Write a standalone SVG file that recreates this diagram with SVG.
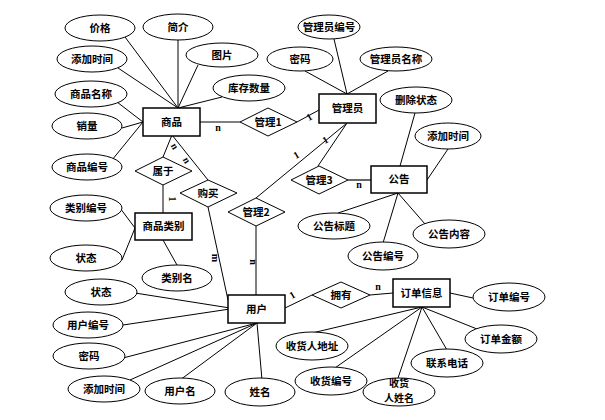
<svg xmlns="http://www.w3.org/2000/svg" width="605" height="420" viewBox="0 0 605 420">
<style>
.bg{fill:#fff}
.ent rect{fill:#fff;stroke:#000;stroke-width:1.5}
.attr ellipse{fill:#fff;stroke:#000;stroke-width:1}
.rel polygon{fill:#fff;stroke:#000;stroke-width:1}
text{font-family:"Noto Sans CJK SC","Liberation Serif",serif;font-size:10.5px;font-weight:bold;fill:#000;text-anchor:middle}
.card{font-family:"Liberation Serif",serif;font-size:10px;font-weight:bold}
#connectors line{stroke:#000;stroke-width:1}
</style>
<rect class="bg" x="0" y="0" width="605" height="420"/>
<g id="connectors">
<line x1="125" y1="37" x2="178" y2="108"/>
<line x1="178" y1="40" x2="178" y2="108"/>
<line x1="198" y1="65" x2="178" y2="108"/>
<line x1="118" y1="68" x2="178" y2="108"/>
<line x1="222" y1="97" x2="178" y2="108"/>
<line x1="117" y1="102" x2="143" y2="122"/>
<line x1="122" y1="128" x2="143" y2="122"/>
<line x1="112" y1="160" x2="143" y2="122"/>
<line x1="200" y1="122" x2="240" y2="122"/>
<line x1="297" y1="122" x2="319" y2="110"/>
<line x1="347" y1="123" x2="256" y2="198"/>
<line x1="347" y1="123" x2="318" y2="166"/>
<line x1="348" y1="180" x2="371" y2="180" style="stroke:#666;stroke-width:2"/>
<line x1="172" y1="135" x2="163" y2="157"/>
<line x1="172" y1="135" x2="208" y2="180"/>
<line x1="163" y1="185" x2="163" y2="213"/>
<line x1="208" y1="207" x2="228" y2="300"/>
<line x1="256" y1="226" x2="256" y2="295"/>
<line x1="285" y1="308" x2="312" y2="295"/>
<line x1="370" y1="295" x2="393" y2="293"/>
<line x1="334" y1="39" x2="347" y2="94"/>
<line x1="305" y1="71" x2="347" y2="94"/>
<line x1="388" y1="71" x2="347" y2="94"/>
<line x1="415" y1="113" x2="400" y2="166"/>
<line x1="448" y1="149" x2="427" y2="180"/>
<line x1="398" y1="193" x2="338" y2="213"/>
<line x1="398" y1="193" x2="383" y2="243"/>
<line x1="398" y1="193" x2="425" y2="224"/>
<line x1="120" y1="208" x2="135" y2="228"/>
<line x1="122" y1="260" x2="135" y2="228"/>
<line x1="177" y1="265" x2="163" y2="240"/>
<line x1="135" y1="293" x2="230" y2="308"/>
<line x1="123" y1="325" x2="230" y2="309"/>
<line x1="123" y1="358" x2="257" y2="323"/>
<line x1="130" y1="380" x2="257" y2="323"/>
<line x1="180" y1="380" x2="257" y2="323"/>
<line x1="262" y1="380" x2="257" y2="323"/>
<line x1="450" y1="293" x2="473" y2="298"/>
<line x1="422" y1="307" x2="312" y2="333"/>
<line x1="422" y1="307" x2="332" y2="370"/>
<line x1="422" y1="307" x2="398" y2="378"/>
<line x1="422" y1="307" x2="447" y2="350"/>
<line x1="422" y1="307" x2="477" y2="329"/>
<text class="card" x="218" y="131">n</text>
<text class="card" transform="translate(311,120) rotate(-30)">1</text>
<text class="card" transform="translate(327,143) rotate(-30)">1</text>
<text class="card" transform="translate(298,158) rotate(-30)">1</text>
<text class="card" x="359" y="188">n</text>
<text class="card" transform="translate(172,148) rotate(60)">n</text>
<text class="card" transform="translate(184,162) rotate(60)">n</text>
<text class="card" transform="translate(169,199) rotate(90)">1</text>
<text class="card" transform="translate(212,258) rotate(90)">m</text>
<text class="card" transform="translate(250,262) rotate(90)">n</text>
<text class="card" transform="translate(294,298) rotate(-30)">1</text>
<text class="card" x="378" y="290">n</text>
</g>
<g id="e-shangpin" class="ent"><rect x="143" y="108" width="57" height="28"/><text x="171.5" y="126">商品</text></g>
<g id="e-guanliyuan" class="ent"><rect x="319" y="94" width="57" height="29"/><text x="347.5" y="112">管理员</text></g>
<g id="e-gonggao" class="ent"><rect x="371" y="166" width="56" height="27"/><text x="399" y="183">公告</text></g>
<g id="e-leibie" class="ent"><rect x="135" y="213" width="57" height="27"/><text x="163.5" y="230">商品类别</text></g>
<g id="e-yonghu" class="ent"><rect x="228" y="295" width="57" height="28"/><text x="256.5" y="313">用户</text></g>
<g id="e-dingdan" class="ent"><rect x="393" y="279" width="57" height="28"/><text x="421.5" y="297">订单信息</text></g>
<g id="r-guanli1" class="rel"><polygon points="240,122 268,108 297,122 268,136"/><text x="268" y="126">管理1</text></g>
<g id="r-guanli2" class="rel"><polygon points="228,212 256,198 285,212 256,226"/><text x="256" y="216">管理2</text></g>
<g id="r-guanli3" class="rel"><polygon points="291,180 319,166 348,180 319,194"/><text x="319" y="184">管理3</text></g>
<g id="r-shuyu" class="rel"><polygon points="135,171 163,157 192,171 163,185"/><text x="163" y="175">属于</text></g>
<g id="r-goumai" class="rel"><polygon points="180,193 208,180 237,193 208,207"/><text x="208" y="197">购买</text></g>
<g id="r-yongyou" class="rel"><polygon points="312,295 341,282 370,295 341,308"/><text x="341" y="299">拥有</text></g>
<g id="a-jiage" class="attr"><ellipse cx="100" cy="28" rx="35" ry="13"/><text x="100" y="32">价格</text></g>
<g id="a-jianjie" class="attr"><ellipse cx="178" cy="27" rx="35" ry="13"/><text x="178" y="31">简介</text></g>
<g id="a-tupian" class="attr"><ellipse cx="222" cy="55" rx="36" ry="12"/><text x="222" y="59">图片</text></g>
<g id="a-tianjia1" class="attr"><ellipse cx="92" cy="59" rx="35" ry="13"/><text x="92" y="63">添加时间</text></g>
<g id="a-spmc" class="attr"><ellipse cx="91" cy="94" rx="36" ry="13"/><text x="91" y="98">商品名称</text></g>
<g id="a-kucun" class="attr"><ellipse cx="249" cy="88" rx="36" ry="13"/><text x="249" y="92">库存数量</text></g>
<g id="a-xiaoliang" class="attr"><ellipse cx="87" cy="126" rx="35" ry="13"/><text x="87" y="130">销量</text></g>
<g id="a-spbh" class="attr"><ellipse cx="87" cy="167" rx="35" ry="13"/><text x="87" y="171">商品编号</text></g>
<g id="a-glybh" class="attr"><ellipse cx="329" cy="27" rx="31" ry="12"/><text x="329" y="31">管理员编号</text></g>
<g id="a-mima1" class="attr"><ellipse cx="300" cy="59" rx="33" ry="12"/><text x="300" y="63">密码</text></g>
<g id="a-glymc" class="attr"><ellipse cx="396" cy="59" rx="36" ry="12"/><text x="396" y="63">管理员名称</text></g>
<g id="a-shanchu" class="attr"><ellipse cx="416" cy="100" rx="36" ry="13"/><text x="416" y="104">删除状态</text></g>
<g id="a-tianjia2" class="attr"><ellipse cx="448" cy="136" rx="33" ry="13"/><text x="448" y="140">添加时间</text></g>
<g id="a-ggbt" class="attr"><ellipse cx="334" cy="226" rx="36" ry="13"/><text x="334" y="230">公告标题</text></g>
<g id="a-ggnr" class="attr"><ellipse cx="449" cy="234" rx="36" ry="14"/><text x="449" y="238">公告内容</text></g>
<g id="a-ggbh" class="attr"><ellipse cx="383" cy="256" rx="35" ry="14"/><text x="383" y="260">公告编号</text></g>
<g id="a-lbbh" class="attr"><ellipse cx="86" cy="208" rx="36" ry="13"/><text x="86" y="212">类别编号</text></g>
<g id="a-zhuangtai1" class="attr"><ellipse cx="86" cy="258" rx="36" ry="13"/><text x="86" y="262">状态</text></g>
<g id="a-lbm" class="attr"><ellipse cx="177" cy="278" rx="35" ry="13"/><text x="177" y="282">类别名</text></g>
<g id="a-zhuangtai2" class="attr"><ellipse cx="101" cy="292" rx="36" ry="13"/><text x="101" y="296">状态</text></g>
<g id="a-yhbh" class="attr"><ellipse cx="88" cy="325" rx="35" ry="13"/><text x="88" y="329">用户编号</text></g>
<g id="a-mima2" class="attr"><ellipse cx="89" cy="356" rx="36" ry="13"/><text x="89" y="360">密码</text></g>
<g id="a-tianjia3" class="attr"><ellipse cx="104" cy="389" rx="36" ry="13"/><text x="104" y="393">添加时间</text></g>
<g id="a-yhm" class="attr"><ellipse cx="180" cy="391" rx="35" ry="13"/><text x="180" y="395">用户名</text></g>
<g id="a-xingming" class="attr"><ellipse cx="260" cy="392" rx="35" ry="14"/><text x="260" y="396">姓名</text></g>
<g id="a-ddbh" class="attr"><ellipse cx="509" cy="297" rx="36" ry="14"/><text x="509" y="301">订单编号</text></g>
<g id="a-ddje" class="attr"><ellipse cx="501" cy="339" rx="36" ry="14"/><text x="501" y="343">订单金额</text></g>
<g id="a-lxdh" class="attr"><ellipse cx="447" cy="363" rx="36" ry="14"/><text x="447" y="367">联系电话</text></g>
<g id="a-shrdz" class="attr"><ellipse cx="312" cy="346" rx="36" ry="14"/><text x="312" y="350">收货人地址</text></g>
<g id="a-shbh" class="attr"><ellipse cx="331" cy="381" rx="36" ry="14"/><text x="331" y="385">收货编号</text></g>
<g id="a-shrxm" class="attr"><ellipse cx="399" cy="392" rx="36" ry="14"/><text x="399" y="387" style="font-size:10px">收货</text><text x="399" y="402" style="font-size:10px">人姓名</text></g>
</svg>
